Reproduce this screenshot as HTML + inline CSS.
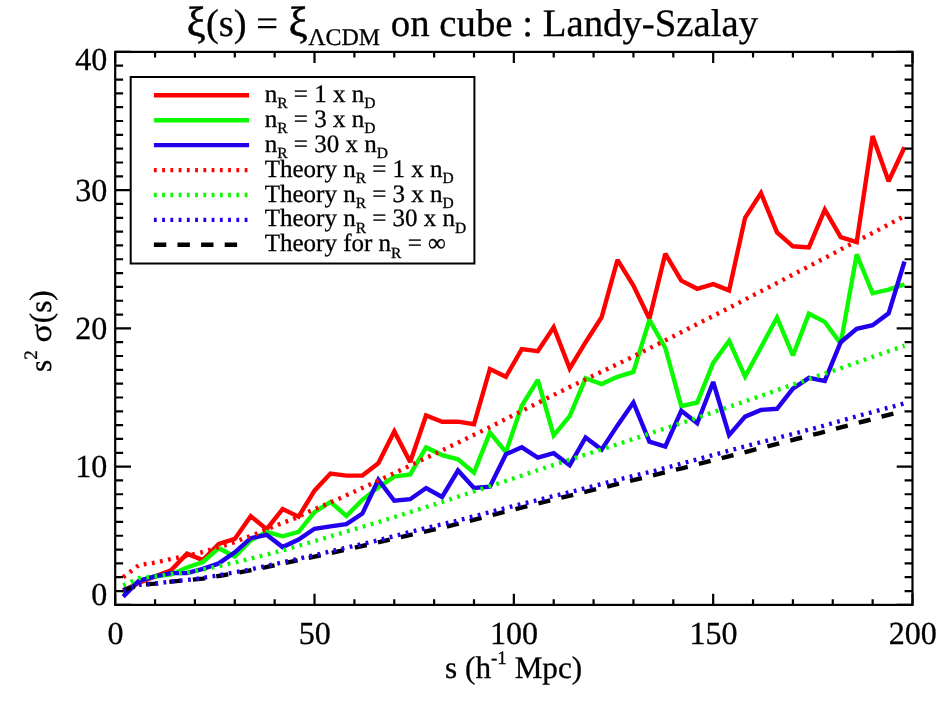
<!DOCTYPE html>
<html><head><meta charset="utf-8"><title>plot</title>
<style>
html,body{margin:0;padding:0;background:#fff;}
body{width:945px;height:709px;overflow:hidden;font-family:"Liberation Serif",serif;}
svg{display:block;}
text{font-family:"Liberation Serif",serif;fill:#000;text-rendering:geometricPrecision;stroke:#000;stroke-width:0.3px;}
svg{will-change:transform;}
</style></head><body>
<svg width="945" height="709" viewBox="0 0 945 709">
<rect width="945" height="709" fill="#fff"/>

<g fill="none" stroke-linejoin="miter" stroke-miterlimit="2.47" stroke-width="4.4">
<polyline stroke="#ff0000" points="123.2,590.5 139.1,582.7 155.1,576.4 171.0,570.3 187.0,553.7 202.9,560.1 218.8,544.0 234.8,538.9 250.7,516.2 266.7,529.2 282.6,509.1 298.6,516.7 314.5,490.7 330.5,473.6 346.4,475.6 362.4,475.6 378.3,463.2 394.3,431.4 410.2,462.0 426.1,415.5 442.1,421.7 458.0,421.7 474.0,424.2 489.9,369.0 505.9,376.8 521.8,349.1 537.8,351.2 553.7,327.2 569.7,368.5 585.6,342.2 601.6,317.3 617.5,259.9 633.4,285.5 649.4,318.7 665.3,253.7 681.3,280.7 697.2,288.8 713.2,284.1 729.1,290.4 745.1,217.8 761.0,193.1 777.0,232.4 792.9,246.3 808.9,247.4 824.8,209.7 840.7,237.1 856.7,242.1 872.6,136.1 888.6,181.3 904.5,147.3"/>
<polyline stroke="#0cfa00" points="123.2,593.8 139.1,580.8 155.1,576.2 171.0,574.4 187.0,567.5 202.9,562.0 218.8,548.2 234.8,556.5 250.7,540.4 266.7,531.9 282.6,536.3 298.6,531.9 314.5,512.2 330.5,501.9 346.4,516.0 362.4,499.8 378.3,487.3 394.3,476.6 410.2,474.4 426.1,447.4 442.1,455.1 458.0,459.3 474.0,472.6 489.9,432.6 505.9,452.1 521.8,405.8 537.8,379.8 553.7,435.4 569.7,416.2 585.6,378.3 601.6,384.1 617.5,376.8 633.4,371.9 649.4,319.9 665.3,348.0 681.3,406.1 697.2,402.5 713.2,362.9 729.1,340.8 745.1,376.6 761.0,347.2 777.0,317.5 792.9,355.5 808.9,313.7 824.8,321.9 840.7,343.6 856.7,254.4 872.6,293.3 888.6,289.7 904.5,284.4"/>
<polyline stroke="#2200ee" points="123.2,596.6 139.1,580.8 155.1,576.4 171.0,573.1 187.0,573.1 202.9,568.9 218.8,563.4 234.8,552.3 250.7,538.2 266.7,534.8 282.6,547.1 298.6,539.6 314.5,528.8 330.5,526.3 346.4,524.1 362.4,513.6 378.3,479.7 394.3,500.8 410.2,499.2 426.1,488.0 442.1,497.0 458.0,470.5 474.0,488.0 489.9,486.7 505.9,454.2 521.8,447.3 537.8,457.6 553.7,453.2 569.7,465.3 585.6,437.5 601.6,449.6 617.5,425.4 633.4,402.5 649.4,441.7 665.3,446.5 681.3,410.8 697.2,423.2 713.2,382.0 729.1,435.1 745.1,416.6 761.0,409.9 777.0,408.8 792.9,388.6 808.9,377.9 824.8,380.9 840.7,342.2 856.7,328.8 872.6,325.2 888.6,313.3 904.5,261.5"/>
<polyline stroke="#ff0000" stroke-dasharray="2.8 5.45" points="123.2,577.2 139.1,564.9 155.1,562.7 171.0,559.0 187.0,555.8 200.9,552.5 208.9,550.2 232.8,542.8 240.4,539.7 248.3,536.8 255.9,533.9 278.6,524.5 294.6,518.5 309.3,511.5 324.5,505.0 339.6,498.4 378.3,480.7 436.8,452.9 466.8,438.4 490.3,426.9 503.9,420.0 548.1,397.7 577.8,383.1 615.1,365.3 630.3,358.0 674.5,335.7 730.3,307.2 762.7,290.4 799.4,271.3 836.0,252.1 843.1,248.2 872.6,233.0 904.5,216.0"/>
<polyline stroke="#0cfa00" stroke-dasharray="2.8 5.45" points="123.2,585.4 139.1,578.0 155.1,576.6 171.0,574.0 187.0,572.6 203.9,569.4 236.0,562.2 268.5,554.2 284.2,549.9 316.1,540.7 347.8,531.2 379.9,521.6 419.0,509.4 458.3,496.7 505.5,481.1 536.8,470.5 576.2,457.6 623.2,442.4 654.6,431.9 686.3,421.5 756.6,397.4 787.7,386.4 842.5,367.6 873.8,356.4 904.5,345.7"/>
<polyline stroke="#000000" stroke-dasharray="12.2 11.4" points="123.2,590.3 139.1,584.9 155.1,583.6 171.0,581.6 187.0,580.2 202.9,578.6 221.6,575.5 244.8,571.4 268.3,566.7 337.2,551.7 374.3,543.3 452.5,525.2 497.9,513.6 566.9,496.3 659.0,473.9 681.7,468.3 727.5,456.7 751.0,450.6 796.1,439.0 818.8,433.3 865.1,421.0 904.5,410.6"/>
<polyline stroke="#2200ee" stroke-dasharray="2.8 5.45" points="123.2,590.3 139.1,584.9 155.1,583.6 171.0,581.5 187.0,580.0 196.5,578.8 213.3,576.2 229.2,573.3 246.0,570.3 261.9,566.9 269.9,565.2 318.1,554.3 334.3,550.5 350.8,546.7 374.7,541.1 422.8,528.8 455.2,521.2 510.3,506.8 551.2,496.7 575.2,490.8 623.4,478.4 655.6,470.6 695.6,459.8 736.7,448.6 759.3,442.6 791.5,434.3 823.6,425.8 863.5,414.5 904.5,403.3"/>
</g>
<g stroke="#000" stroke-width="2.2" fill="none" stroke-linecap="butt">
<rect x="115.2" y="51.9" width="797.3" height="553.0"/>
<path d="M115.20 604.85v-11.0M115.20 51.90v11.0M155.06 604.85v-5.6M155.06 51.90v5.6M194.93 604.85v-5.6M194.93 51.90v5.6M234.80 604.85v-5.6M234.80 51.90v5.6M274.66 604.85v-5.6M274.66 51.90v5.6M314.52 604.85v-11.0M314.52 51.90v11.0M354.39 604.85v-5.6M354.39 51.90v5.6M394.25 604.85v-5.6M394.25 51.90v5.6M434.12 604.85v-5.6M434.12 51.90v5.6M473.99 604.85v-5.6M473.99 51.90v5.6M513.85 604.85v-11.0M513.85 51.90v11.0M553.72 604.85v-5.6M553.72 51.90v5.6M593.58 604.85v-5.6M593.58 51.90v5.6M633.45 604.85v-5.6M633.45 51.90v5.6M673.31 604.85v-5.6M673.31 51.90v5.6M713.18 604.85v-11.0M713.18 51.90v11.0M753.04 604.85v-5.6M753.04 51.90v5.6M792.91 604.85v-5.6M792.91 51.90v5.6M832.77 604.85v-5.6M832.77 51.90v5.6M872.63 604.85v-5.6M872.63 51.90v5.6M912.50 604.85v-11.0M912.50 51.90v11.0M115.20 604.85h15.8M912.50 604.85h-15.8M115.20 591.03h7.9M912.50 591.03h-7.9M115.20 577.20h7.9M912.50 577.20h-7.9M115.20 563.38h7.9M912.50 563.38h-7.9M115.20 549.56h7.9M912.50 549.56h-7.9M115.20 535.73h7.9M912.50 535.73h-7.9M115.20 521.91h7.9M912.50 521.91h-7.9M115.20 508.08h7.9M912.50 508.08h-7.9M115.20 494.26h7.9M912.50 494.26h-7.9M115.20 480.44h7.9M912.50 480.44h-7.9M115.20 466.61h15.8M912.50 466.61h-15.8M115.20 452.79h7.9M912.50 452.79h-7.9M115.20 438.97h7.9M912.50 438.97h-7.9M115.20 425.14h7.9M912.50 425.14h-7.9M115.20 411.32h7.9M912.50 411.32h-7.9M115.20 397.49h7.9M912.50 397.49h-7.9M115.20 383.67h7.9M912.50 383.67h-7.9M115.20 369.85h7.9M912.50 369.85h-7.9M115.20 356.02h7.9M912.50 356.02h-7.9M115.20 342.20h7.9M912.50 342.20h-7.9M115.20 328.38h15.8M912.50 328.38h-15.8M115.20 314.55h7.9M912.50 314.55h-7.9M115.20 300.73h7.9M912.50 300.73h-7.9M115.20 286.90h7.9M912.50 286.90h-7.9M115.20 273.08h7.9M912.50 273.08h-7.9M115.20 259.26h7.9M912.50 259.26h-7.9M115.20 245.43h7.9M912.50 245.43h-7.9M115.20 231.61h7.9M912.50 231.61h-7.9M115.20 217.78h7.9M912.50 217.78h-7.9M115.20 203.96h7.9M912.50 203.96h-7.9M115.20 190.14h15.8M912.50 190.14h-15.8M115.20 176.31h7.9M912.50 176.31h-7.9M115.20 162.49h7.9M912.50 162.49h-7.9M115.20 148.67h7.9M912.50 148.67h-7.9M115.20 134.84h7.9M912.50 134.84h-7.9M115.20 121.02h7.9M912.50 121.02h-7.9M115.20 107.19h7.9M912.50 107.19h-7.9M115.20 93.37h7.9M912.50 93.37h-7.9M115.20 79.55h7.9M912.50 79.55h-7.9M115.20 65.72h7.9M912.50 65.72h-7.9M115.20 51.90h15.8M912.50 51.90h-15.8"/>
</g>
<text x="115.5" y="643.9" font-size="32.1" text-anchor="middle">0</text>
<text x="314.8" y="643.9" font-size="32.1" text-anchor="middle">50</text>
<text x="514.1" y="643.9" font-size="32.1" text-anchor="middle">100</text>
<text x="713.5" y="643.9" font-size="32.1" text-anchor="middle">150</text>
<text x="912.8" y="643.9" font-size="32.1" text-anchor="middle">200</text>
<text x="107.4" y="605.1" font-size="32.1" text-anchor="end">0</text>
<text x="107.4" y="477.4" font-size="32.1" text-anchor="end">10</text>
<text x="107.4" y="339.2" font-size="32.1" text-anchor="end">20</text>
<text x="107.4" y="201.0" font-size="32.1" text-anchor="end">30</text>
<text x="107.4" y="70.3" font-size="32.1" text-anchor="end">40</text>
<text x="445.1" y="678.4" font-size="31.2">s (h<tspan font-size="19" dy="-14.5">-1</tspan><tspan dy="14.5"> Mpc)</tspan></text>
<g transform="translate(51,372) rotate(-90)" font-size="31.2"><text>s<tspan font-size="19" dy="-14.5">2</tspan></text><text transform="translate(29.4,0) scale(1.1,1)">σ</text><text x="48.8">(s)</text></g>
<text transform="translate(186.8,36.2) scale(1.09)" font-size="38.6" style="stroke-width:0.55px">ξ</text><text x="205.9" y="36.2" font-size="38.6">(s) =</text><text transform="translate(288.7,36.2) scale(1.09)" font-size="38.6" style="stroke-width:0.55px">ξ</text><text x="308.2" y="44.8" font-size="23.9">ΛCDM</text><text x="390.8" y="36.2" font-size="38.8">on cube : Landy-Szalay</text>
<rect x="130.7" y="77.0" width="343.7" height="186.5" fill="#fff" stroke="#000" stroke-width="2"/>
<line x1="153.9" y1="95.3" x2="249.1" y2="95.3" stroke="#ff0000" stroke-width="4.4"/>
<text x="264.7" y="101.8" font-size="25.0">n<tspan font-size="15.5" dy="6.5">R</tspan><tspan dy="-6.5"> = 1 x </tspan>n<tspan font-size="15.5" dy="6.5">D</tspan></text>
<line x1="153.9" y1="120.2" x2="249.1" y2="120.2" stroke="#0cfa00" stroke-width="4.4"/>
<text x="264.7" y="126.7" font-size="25.0">n<tspan font-size="15.5" dy="6.5">R</tspan><tspan dy="-6.5"> = 3 x </tspan>n<tspan font-size="15.5" dy="6.5">D</tspan></text>
<line x1="153.9" y1="145.1" x2="249.1" y2="145.1" stroke="#2200ee" stroke-width="4.4"/>
<text x="264.7" y="151.6" font-size="25.0">n<tspan font-size="15.5" dy="6.5">R</tspan><tspan dy="-6.5"> = 30 x </tspan>n<tspan font-size="15.5" dy="6.5">D</tspan></text>
<line x1="153.9" y1="170.1" x2="249.1" y2="170.1" stroke="#ff0000" stroke-width="4.4" stroke-dasharray="2.8 5.45"/>
<text x="264.7" y="176.6" font-size="25.0">Theory n<tspan font-size="15.5" dy="6.5">R</tspan><tspan dy="-6.5"> = 1 x </tspan>n<tspan font-size="15.5" dy="6.5">D</tspan></text>
<line x1="153.9" y1="195.0" x2="249.1" y2="195.0" stroke="#0cfa00" stroke-width="4.4" stroke-dasharray="2.8 5.45"/>
<text x="264.7" y="201.5" font-size="25.0">Theory n<tspan font-size="15.5" dy="6.5">R</tspan><tspan dy="-6.5"> = 3 x </tspan>n<tspan font-size="15.5" dy="6.5">D</tspan></text>
<line x1="153.9" y1="219.9" x2="249.1" y2="219.9" stroke="#2200ee" stroke-width="4.4" stroke-dasharray="2.8 5.45"/>
<text x="264.7" y="226.4" font-size="25.0">Theory n<tspan font-size="15.5" dy="6.5">R</tspan><tspan dy="-6.5"> = 30 x </tspan>n<tspan font-size="15.5" dy="6.5">D</tspan></text>
<line x1="153.9" y1="244.8" x2="241.0" y2="244.8" stroke="#000" stroke-width="4.4" stroke-dasharray="12.4 11.2"/>
<text x="264.7" y="251.3" font-size="25.0">Theory for n<tspan font-size="15.5" dy="6.5">R</tspan><tspan dy="-6.5"> = ∞</tspan></text>
</svg></body></html>
